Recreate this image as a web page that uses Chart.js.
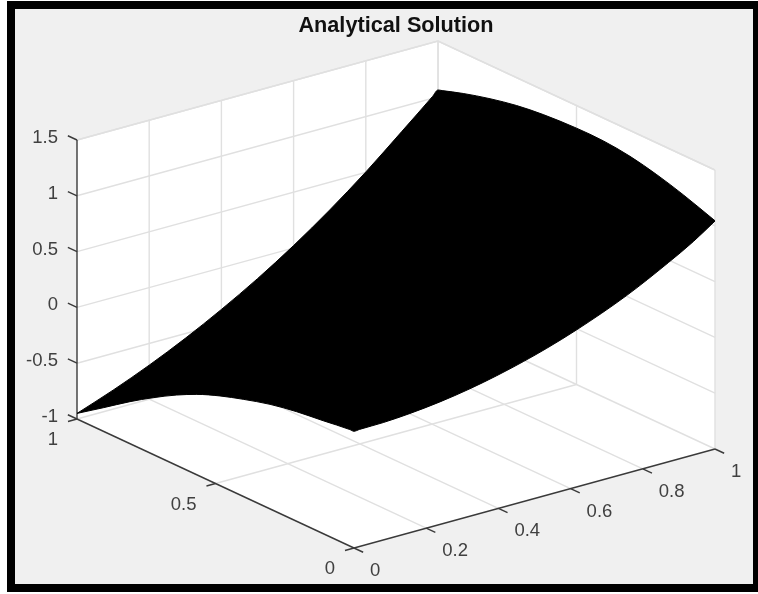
<!DOCTYPE html>
<html>
<head>
<meta charset="utf-8">
<title>Analytical Solution</title>
<script src="https://cdn.jsdelivr.net/npm/chart.js@4"></script>
<style>
  html, body { margin: 0; padding: 0; background: #fff; overflow: hidden; }
  #frame { position: absolute; left: 7px; top: 1px; width: 738px; height: 575px; border: 8px solid #000; border-right-width: 5px; background: #f0f0f0; }
  #chart { position: absolute; left: 0; top: 0; }
</style>
</head>
<body>
<div id="frame"></div>
<canvas id="chart" width="758" height="594"></canvas>
<script>
const xTicks = [0, 0.2, 0.4, 0.6, 0.8, 1];
const yTicks = [0, 0.5, 1];
const zTicks = [-1, -0.5, 0, 0.5, 1, 1.5];

// surface edges
// x=0 edge, going from y=1 to y=0 (t = 1-y)
const edgeX0_t = [0, 0.095, 0.191, 0.275, 0.36, 0.432, 0.516, 0.6, 0.697, 0.793, 0.889, 0.985, 1];
const edgeX0_z = [-0.95, -0.789, -0.624, -0.491, -0.369, -0.28, -0.197, -0.13, -0.063, -0.018, 0.012, 0.044, 0.046];
// y=0 edge
const edgeY0_x = [0.015, 0.081, 0.155, 0.238, 0.321, 0.395, 0.469, 0.534, 0.617, 0.755, 0.871, 0.94, 1];
const edgeY0_z = [0.049, 0.052, 0.068, 0.098, 0.142, 0.193, 0.254, 0.316, 0.408, 0.592, 0.785, 0.912, 1.043];
// y=1 edge
const edgeY1_x = [0, 0.1, 0.2, 0.3, 0.4, 0.5, 0.6, 0.7, 0.8, 0.9, 0.985, 1];
const edgeY1_z = [-0.95, -0.83, -0.695, -0.543, -0.373, -0.186, 0.022, 0.252, 0.504, 0.779, 1.017, 1.061];
// x=1 edge, going from y=1 to y=0 (t = 1-y)
const edgeX1_t = [0.015, 0.091, 0.188, 0.284, 0.38, 0.5, 0.597, 0.693, 0.79, 0.886, 1];
const edgeX1_z = [1.073, 1.135, 1.2, 1.25, 1.28, 1.297, 1.295, 1.268, 1.215, 1.145, 1.045];

// view of the 3d box: pixel position of (0,0,-1) and one unit along each axis
const project = (x, y, z) => ({
  x: 354 + 361 * x - 277 * y,
  y: 548 - 99 * x - 129 * y - 111.6 * (z + 1)
});

const line = (pts, color, width) => ({
  data: pts.map(p => project(p[0], p[1], p[2])),
  showLine: true,
  pointRadius: 0,
  borderColor: color,
  borderWidth: width,
  tension: 0,
  fill: false
});

const gridColor = '#e0e0e0';
const axisColor = '#3a3a3a';

// lower index is drawn on top
const datasets = [];

// surface: upper outline filled down to lower outline
const surfTop = line(
  edgeY1_x.map((x, i) => [x, 1, edgeY1_z[i]]).concat(edgeX1_t.map((t, i) => [1, 1 - t, edgeX1_z[i]])),
  '#000', 1);
surfTop.fill = '+1';
surfTop.backgroundColor = '#000';
surfTop.cubicInterpolationMode = 'monotone';
datasets.push(surfTop);
const surfBottom = line(
  edgeX0_t.map((t, i) => [0, 1 - t, edgeX0_z[i]]).concat(edgeY0_x.map((x, i) => [x, 0, edgeY0_z[i]])),
  '#000', 1);
surfBottom.cubicInterpolationMode = 'monotone';
datasets.push(surfBottom);

// axes and their tick marks
const zMin = zTicks[0], zMax = zTicks[zTicks.length - 1];
datasets.push(line([[0, 0, zMin], [1, 0, zMin]], axisColor, 1.4));
datasets.push(line([[0, 0, zMin], [0, 1, zMin]], axisColor, 1.4));
datasets.push(line([[0, 1, zMin], [0, 1, zMax]], axisColor, 1.4));
xTicks.forEach(x => datasets.push(line([[x, 0, zMin], [x, -0.033, zMin]], axisColor, 1.4)));
yTicks.forEach(y => datasets.push(line([[0, y, zMin], [-0.025, y, zMin]], axisColor, 1.4)));
zTicks.forEach(z => datasets.push(line([[0, 1, z], [0, 1.033, z]], axisColor, 1.4)));

// grid on the floor and the two back walls
xTicks.slice(1).forEach(x => {
  datasets.push(line([[x, 0, zMin], [x, 1, zMin]], gridColor, 1.4));
  datasets.push(line([[x, 1, zMin], [x, 1, zMax]], gridColor, 1.4));
});
yTicks.slice(1).forEach(y => {
  datasets.push(line([[0, y, zMin], [1, y, zMin]], gridColor, 1.4));
  datasets.push(line([[1, y, zMin], [1, y, zMax]], gridColor, 1.4));
});
datasets.push(line([[1, 0, zMin], [1, 0, zMax]], gridColor, 1.4));
zTicks.slice(1).forEach(z => {
  datasets.push(line([[0, 1, z], [1, 1, z], [1, 0, z]], gridColor, 1.4));
});

// white box behind everything
const boxTop = line([[0, 1, zMax], [1, 1, zMax], [1, 0, zMax]], gridColor, 1.4);
boxTop.fill = '+1';
boxTop.backgroundColor = '#fff';
datasets.push(boxTop);
datasets.push(line([[0, 1, zMin], [0, 0, zMin], [1, 0, zMin]], 'rgba(0,0,0,0)', 0));

// the library has no 3d axis labels, so place them from the same scales
const tickLabels = {
  id: 'tickLabels',
  afterDatasetsDraw(chart) {
    const { ctx, scales } = chart;
    const put = (text, p, dx, dy, align) => {
      ctx.textAlign = align;
      ctx.fillText(text, scales.x.getPixelForValue(p.x) + dx, scales.y.getPixelForValue(p.y) + dy);
    };
    ctx.save();
    ctx.font = '18.5px "Liberation Sans"';
    ctx.fillStyle = '#404040';
    ctx.textBaseline = 'middle';
    xTicks.forEach(x => put(String(x), project(x, 0, zMin), 16, 23, 'left'));
    yTicks.forEach(y => put(String(y), project(0, y, zMin), -19, 21, 'right'));
    zTicks.forEach(z => put(String(z), project(0, 1, z), -19, -2, 'right'));
    ctx.restore();
  }
};

new Chart(document.getElementById('chart'), {
  type: 'scatter',
  data: { datasets: datasets },
  plugins: [tickLabels],
  options: {
    responsive: false,
    animation: false,
    events: [],
    layout: { padding: { left: 34 } },
    plugins: {
      legend: { display: false },
      tooltip: { enabled: false },
      title: {
        display: true,
        text: 'Analytical Solution',
        color: '#111',
        font: { family: '"Liberation Sans"', size: 21.7, weight: 'bold', lineHeight: 1 },
        padding: { top: 15.3, bottom: 1 }
      }
    },
    scales: {
      x: { type: 'linear', display: false, min: 34, max: 758 },
      y: { type: 'linear', display: false, min: 38, max: 594, reverse: true }
    }
  }
});
</script>
</body>
</html>
